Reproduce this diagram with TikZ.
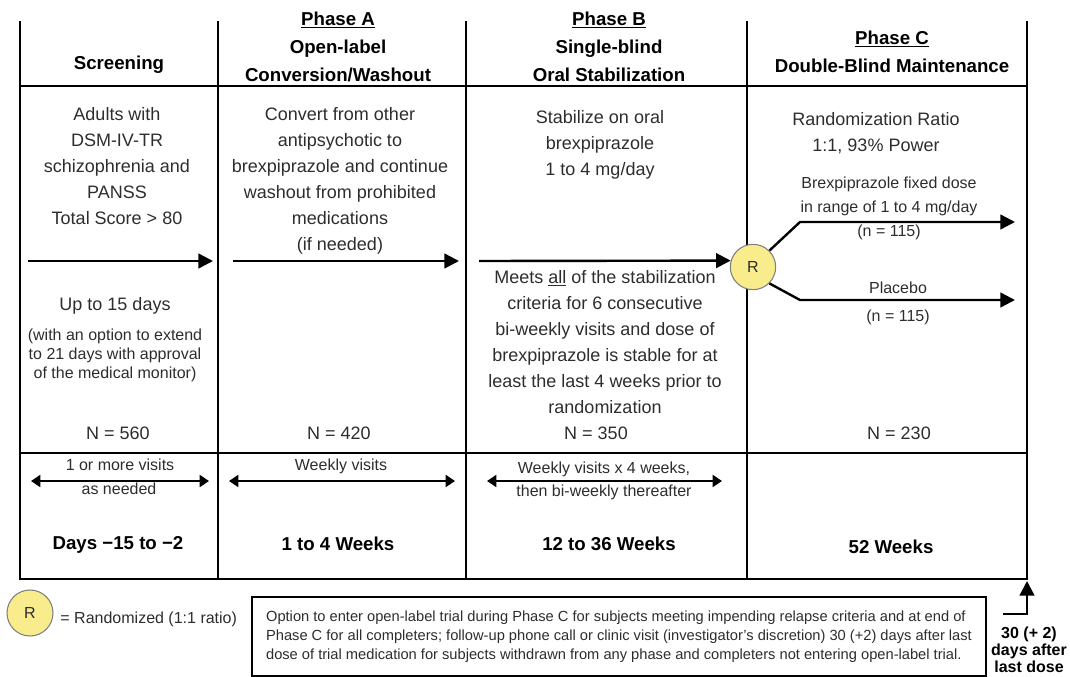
\documentclass[tikz,border=0pt]{standalone}
\usepackage{fontspec}
\setmainfont{Liberation Sans}
\usetikzlibrary{arrows.meta, positioning}

\definecolor{randyellow}{RGB}{248,236,140}
\definecolor{bodygray}{RGB}{45,45,45}

\begin{document}
\begin{tikzpicture}[x = 0.75pt, y = -0.75pt,
		frame/.style = {line width = 1.6pt, line cap = rect},
		body/.style = {align = center, inner sep = 0pt, text = bodygray, font = \fontsize{13.5}{19.5}\selectfont},
		small/.style = {align = center, inner sep = 0pt, text = bodygray, font = \fontsize{12}{14.25}\selectfont},
		head/.style = {align = center, inner sep = 0pt, font = \bfseries\fontsize{14}{21}\selectfont},
		flow/.style = {line width = 1.8pt, -{Triangle[length = 11pt, width = 11pt]}},
		visit/.style = {line width = 1.4pt, {Triangle[length = 7pt, width = 9pt]}-{Triangle[length = 7pt, width = 9pt]}},
		rand/.style = {circle, draw = gray, line width = 0.8pt, fill = randyellow, inner sep = 0pt, text = bodygray, font = \fontsize{12}{14}\selectfont}]
	\def\yT{22}
	\def\yH{86}
	\def\yM{453}
	\def\yB{579}
	\def\yF{261}
	\def\yV{481}

	\useasboundingbox (0,0) rectangle (1070,677);

	\foreach \x in {20, 218, 466, 747, 1027}
		\draw [frame] (\x,\yT) -- (\x,\yB);
	\foreach \y in {\yH, \yM, \yB}
		\draw [frame] (20,\y) -- (1027,\y);

	\node [head] (scr) at (119,65) {Screening};
	\node [head] (pha) at (338,47) {\underline{Phase A}\\Open-label\\Conversion/Washout};
	\node [head] (phb) at (609,47) {\underline{Phase B}\\Single-blind\\Oral Stabilization};
	\node [head] (phc) at (892,52) {\underline{Phase C}\\Double-Blind Maintenance};

	\node [body] (scrtxt) at (117,166) {Adults with\\DSM-IV-TR\\schizophrenia and\\PANSS\\Total Score > 80};
	\node [body] (scrdur) at (115,306) {Up to 15 days};
	\node [small] (scrext) at (115,355) {(with an option to extend\\to 21 days with approval\\of the medical monitor)};
	\node [body] (patxt) at (340,181) {Convert from other\\antipsychotic to\\brexpiprazole and continue\\washout from prohibited\\medications\\(if needed)};
	\node [body] (pbtxt) at (600,145) {Stabilize on oral\\brexpiprazole\\1 to 4 mg/day};
	\node [body] (pbcrit) at (605,342) {Meets \underline{all} of the stabilization\\criteria for 6 consecutive\\bi-weekly visits and dose of\\brexpiprazole is stable for at\\least the last 4 weeks prior to\\randomization};
	\node [body] (pctxt) at (876,133) {Randomization Ratio\\1:1, 93\% Power};

	\node [small, font = \fontsize{12}{18}\selectfont] (armtxt) at (889,196) {Brexpiprazole fixed dose\\in range of 1 to 4 mg/day};
	\node [small] (armn) at (889,232) {(n = 115)};
	\node [small] (plc) at (898,288) {Placebo};
	\node [small] (plcn) at (898,317) {(n = 115)};

	\foreach \x/\n in {118/560, 339/420, 596/350, 899/230}
		\node [body] (n\n) at (\x,433) {N = \n};

	\node [small] (vscra) at (120,465) {1 or more visits};
	\node [small] (vscrb) at (119,489) {as needed};
	\node [small] (vpa) at (341,466) {Weekly visits};
	\node [small] (vpba) at (604,469) {Weekly visits x 4 weeks,};
	\node [small] (vpbb) at (604,492) {then bi-weekly thereafter};

	\node [head] (dscr) at (118,545) {Days −15 to −2};
	\node [head] (dpa) at (338,544) {1 to 4 Weeks};
	\node [head] (dpb) at (609,544) {12 to 36 Weeks};
	\node [head] (dpc) at (891,547) {52 Weeks};

	\node [rand, minimum size = 34pt] (R) at (753,267) {R};

	\coordinate (scrS) at (28,\yF);
	\coordinate (scrE) at (213,\yF);
	\coordinate (paS) at (233,\yF);
	\coordinate (paE) at (459,\yF);
	\coordinate (pbS) at (479,\yF);
	\draw [flow] (scrS) -- (scrE);
	\draw [flow] (paS) -- (paE);
	\draw [flow] (pbS) -- (R.164);

	\coordinate (armK) at (800,222);
	\coordinate (armE) at (1015,222);
	\coordinate (plcK) at (800,300);
	\coordinate (plcE) at (1015,300);
	\draw [flow] (R.45) -- (armK) -- (armE);
	\draw [flow] (R.-45) -- (plcK) -- (plcE);

	\foreach \a/\b/\n in {31/209/scr, 229/455/pa, 487/722/pb} {
		\coordinate (v\n1) at (\a,\yV);
		\coordinate (v\n2) at (\b,\yV);
		\draw [visit] (v\n1) -- (v\n2);
	}

	\node [rand, minimum size = 34.5pt] (legR) at (30,613) {R};
	\node [small, right = 5pt of legR, yshift = -5pt] (legtxt) {= Randomized (1:1 ratio)};

	\node [draw, line width = 0.9pt, align = left, minimum width = 550.5pt, minimum height = 59.25pt, text = bodygray, font = \fontsize{11}{14.25}\selectfont] (note) at (619,636.5) {Option to enter open-label trial during Phase C for subjects meeting impending relapse criteria and at end of\\Phase C for all completers; follow-up phone call or clinic visit (investigator's discretion) 30 (+2) days after last\\dose of trial medication for subjects withdrawn from any phase and completers not entering open-label trial.};

	\node [head, font = \bfseries\fontsize{12}{12.75}\selectfont] (fup) at (1029,650) {30 (+ 2)\\days after\\last dose};
	\coordinate (fupS) at (1003,614);
	\coordinate (fupT) at (1027,581);
	\draw [flow] (fupS) -| (fupT);
\end{tikzpicture}
\end{document}
